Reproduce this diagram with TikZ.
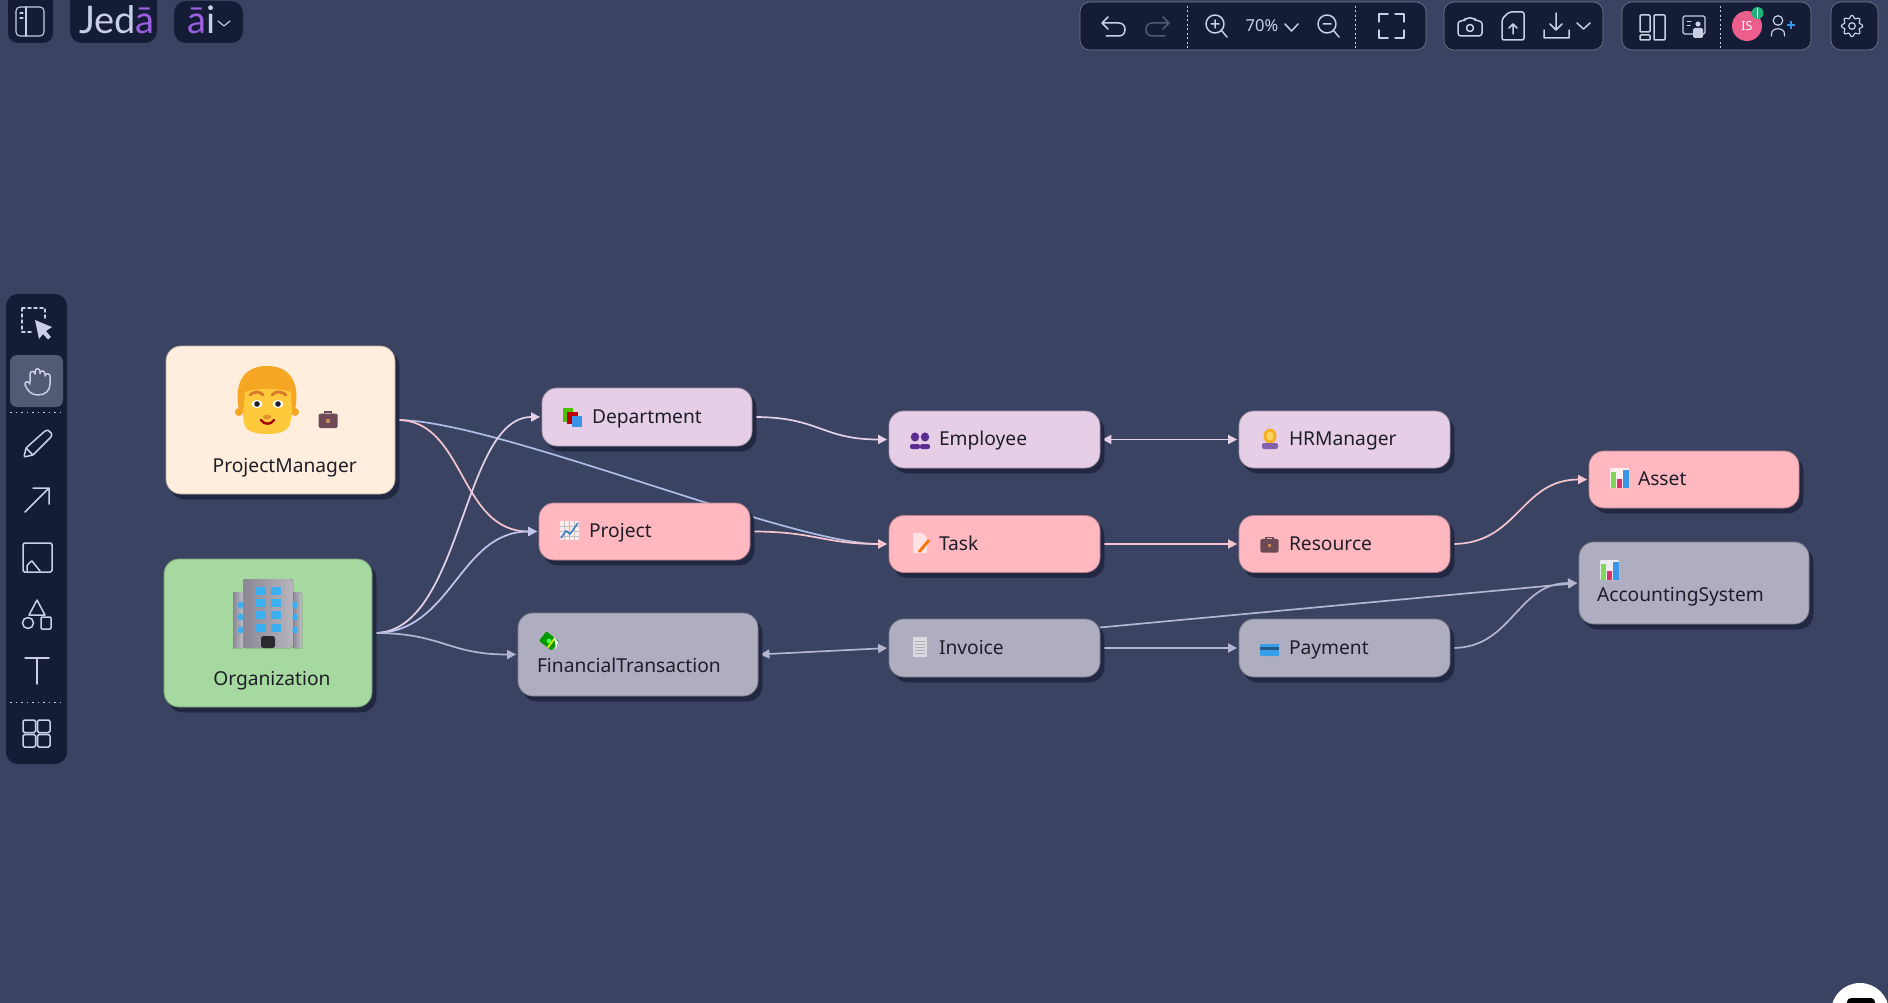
\documentclass[tikz,border=0pt]{standalone}
\usepackage{fontspec}
\setmainfont{Noto Sans}
\newfontfamily\logofont{Lato}
\usetikzlibrary{arrows.meta,calc}
\definecolor{bgc}{HTML}{3A4361}
\definecolor{barc}{HTML}{141C36}
\definecolor{iconc}{HTML}{C9D0E5}
\definecolor{shc}{HTML}{222842}
\definecolor{cream}{HTML}{FFEEDD}
\definecolor{leaf}{HTML}{A5D9A0}
\definecolor{lilac}{HTML}{E6CFE6}
\definecolor{rose}{HTML}{FFB8C0}
\definecolor{slate}{HTML}{AEAEC0}
\definecolor{ink}{HTML}{1E1E28}
\definecolor{epink}{HTML}{F5C6D0}
\definecolor{eblue}{HTML}{AEBEE8}
\definecolor{elilac}{HTML}{E6D2E8}
\definecolor{eviol}{HTML}{C4C4F0}
\definecolor{egrey}{HTML}{B4B6D0}
\definecolor{purp}{HTML}{9B5FE0}
\pgfdeclarelayer{bgl}\pgfdeclarelayer{edgel}\pgfsetlayers{bgl,edgel,main}
\newcommand{\nudge}[2]{\smash{\raisebox{-#1pt}{#2}}}
\newcommand{\briefcase}[3]{\begin{scope}[shift={(#1,#2)},scale=#3]
 \draw[line width=1.4pt,draw=BriefC] (-3.5,-6) -- (-3.5,-8) -- (3.5,-8) -- (3.5,-6);
 \fill[BriefC,rounded corners=1.5pt] (-9.5,-6.5) rectangle (9.5,8);
 \fill[BriefL] (-1.8,-1) rectangle (1.8,2.5);
\end{scope}}
\definecolor{BriefC}{HTML}{6D4A55}\definecolor{BriefL}{HTML}{C98A5A}
\newcommand{\barchart}[2]{\begin{scope}[shift={(#1,#2)}]
 \fill[rounded corners=1pt,HTML/dfe] (0,0) rectangle (19,20);
 \fill[barg] (0.5,4) rectangle (6,20);
 \fill[barr] (7,11) rectangle (12,20);
 \fill[barb] (13,2) rectangle (18.5,20);
\end{scope}}
\definecolor{barg}{HTML}{7FD858}\definecolor{barr}{HTML}{D8336A}\definecolor{barb}{HTML}{3B95E6}
\tikzset{HTML/dfe/.style={fill=black!0!white,fill opacity=.75},
 boxbase/.style={rounded corners=15pt,line width=.8pt,text=ink,
   font=\fontsize{19.2}{23}\selectfont,align=left,inner ysep=0pt,
   preaction={fill=shc,draw=shc,transform canvas={xshift=4pt,yshift=-5pt}}},
 box/.style n args={4}{boxbase,fill=#1,draw=#1!72!black,
   inner xsep=#3pt,text width={#2pt-2*#3pt},minimum height=#4pt},
 link/.style={line width=1.7pt,line cap=round,shorten <=2pt,shorten >=1.5pt,
   -{Triangle[length=9pt,width=9pt]}},
 twin/.style={link,{Triangle[length=9pt,width=9pt]}-{Triangle[length=9pt,width=9pt]}},
 panel/.style={fill=barc,rounded corners=10pt,draw=bgc!70!white,line width=.6pt},
 ic/.style={draw=iconc,line width=1.5pt,line cap=round,line join=round,fill=none},
 sep/.style={draw=iconc,line width=.7pt,dash pattern=on 2pt off 2.5pt},
 bartext/.style={text=iconc,inner sep=0pt}}
\begin{document}
\begin{tikzpicture}[x=1pt,y=-1pt]
\useasboundingbox (0,0) rectangle (1888,1003);
\begin{pgfonlayer}{bgl}
\fill[bgc] (0,0) rectangle (1888,1003);
\end{pgfonlayer}
% nodes
\node (pm) [box={cream}{229}{30}{148}] at (280.5,420) {\nudge{52.7}{\hspace*{16.7pt}ProjectManager}};
\node (org) [box={leaf}{208}{30}{148}] at (268,633) {\nudge{52.7}{\hspace*{19.3pt}Organization}};
\node (dept) [box={lilac}{210}{50}{58}] at (647,417) {\nudge{6.3}{Department}};
\node (proj) [box={rose}{211}{50}{57}] at (644.5,531.5) {\nudge{6.3}{Project}};
\node (ft) [box={slate}{240}{19}{83}] at (638,654.5) {\nudge{18.2}{FinancialTransaction}};
\node (emp) [box={lilac}{211}{50}{57}] at (994.5,439.5) {\nudge{6.3}{Employee}};
\node (hr) [box={lilac}{211}{50}{57}] at (1344.5,439.5) {\nudge{6.3}{HRManager}};
\node (task) [box={rose}{211}{50}{57}] at (994.5,544) {\nudge{6.3}{Task}};
\node (res) [box={rose}{211}{50}{57}] at (1344.5,544) {\nudge{6.3}{Resource}};
\node (inv) [box={slate}{211}{50}{58}] at (994.5,648) {\nudge{6.3}{Invoice}};
\node (pay) [box={slate}{211}{50}{58}] at (1344.5,648) {\nudge{6.3}{Payment}};
\node (asset) [box={rose}{210}{49}{57}] at (1694,479.5) {\nudge{6.3}{Asset}};
\node (acc) [box={slate}{230}{18}{82}] at (1694,583) {\nudge{18.7}{AccountingSystem}};
% connectors
\begin{pgfonlayer}{edgel}
\draw[link,eblue] (pm.east) .. controls +(100,0) and +(-100,0) .. (task.west);
\draw[link,epink] (pm.east) .. controls +(70,0) and +(-80,0) .. (proj.west);
\draw[link,elilac] (org.east) .. controls +(90,0) and +(-80,0) .. (dept.west);
\draw[link,eviol] (org.east) .. controls +(80,0) and +(-80,0) .. (proj.west);
\draw[link,egrey] (org.east) .. controls +(70,0) and +(-70,0) .. (ft.west);
\draw[link,elilac] (dept.east) .. controls +(67,0) and +(-67,0) .. (emp.west);
\draw[link,epink] (proj.east) .. controls +(65,0) and +(-65,0) .. (task.west);
\draw[twin,egrey] (ft.east) -- (inv.west);
\draw[twin,elilac] (emp.east) -- (hr.west);
\draw[link,epink] (task.east) -- (res.west);
\draw[link,egrey] (inv.east) -- (pay.west);
\draw[link,epink] (res.east) .. controls +(68,0) and +(-68,0) .. (asset.west);
\draw[link,egrey] (pay.east) .. controls +(62,0) and +(-62,0) .. (acc.west);
\draw[link,egrey,shorten <=0pt] (inv.11.8) -- (acc.west);
\end{pgfonlayer}
% ---- emoji of the nodes
% face
\fill[HTML/dfe,fill opacity=0] (0,0) circle (0);
\definecolor{hair}{HTML}{F5A623}\definecolor{skin}{HTML}{FFC93C}\definecolor{brow}{HTML}{D9782A}
\fill[hair] (239,412) circle (4); \fill[hair] (295,412) circle (4);
\fill[hair] (239,410) .. controls (234,385) and (242,366) .. (267,366) .. controls (292,366) and (300,385) .. (295,410) .. controls (290,415) and (244,415) .. cycle;
\fill[skin] (245,392) .. controls (255,388) and (280,388) .. (291,392) .. controls (292,405) and (293,420) .. (288,428) .. controls (282,436) and (252,436) .. (246,428) .. controls (241,420) and (244,405) .. cycle;
\draw[brow,line width=2.8pt,line cap=round] (250,395) .. controls (254,391) and (260,391) .. (263,395);
\draw[brow,line width=2.8pt,line cap=round] (272,395) .. controls (275,391) and (282,391) .. (286,395);
\fill[white] (257,404) ellipse (5.5 and 4); \fill[white] (278,404) ellipse (5.5 and 4);
\fill[ink] (257,404) circle (2.8); \fill[ink] (278,404) circle (2.8);
\fill[brow!70!skin] (267,417) ellipse (4 and 2.5);
\fill[HTML/dfe,fill opacity=0] (0,0) circle (0);
\draw[draw=black!35!red,line width=2.4pt,line cap=round] (261,420) .. controls (264,425) and (271,425) .. (274,420);
\briefcase{328}{420}{1}
% building
\definecolor{bld}{HTML}{A6A2AE}\definecolor{bld2}{HTML}{8B8795}\definecolor{winb}{HTML}{3BB0F0}
\fill[left color=bld2,right color=bld!70!white] (233,594) arc (180:270:2) -- (243,592) -- (243,648) -- (233,648) -- cycle;
\fill[left color=bld2,right color=bld!70!white] (293,592) -- (300,592) arc (-90:0:2) -- (302,648) -- (293,648) -- cycle;
\fill[left color=bld2,right color=bld!80!white,rounded corners=3pt] (243,648) -- (243,579) -- (293,579) -- (293,648) -- cycle;
\foreach \yy in {591,603,615,628}{\fill[winb] (256,\yy-4) rectangle (266,\yy+4);\fill[winb] (271,\yy-4) rectangle (281,\yy+4);}
\foreach \yy in {605,617,630}{\fill[winb] (240.5,\yy) ellipse (2.8 and 3.6);\fill[winb] (295,\yy) ellipse (2.8 and 3.6);}
\fill[black!70!bld2,rounded corners=2.5pt] (261,648) -- (261,636) -- (275,636) -- (275,648) -- cycle;
% department
\fill[green!60!black!60!lime] (563,408) rectangle (573,422);
\fill[red!75!black] (567,412) rectangle (578,424);
\fill[barb] (572,416) rectangle (582,427);
% project chart
\fill[white,fill opacity=.72] (560,521) rectangle (579,540);
\foreach \xx in {564,569,574}{\draw[black!25,line width=.5pt] (\xx,521) -- (\xx,540);}
\foreach \yy in {526,531,536}{\draw[black!25,line width=.5pt] (560,\yy) -- (579,\yy);}
\draw[barb!85!black,line width=1.5pt] (561,538) -- (566,531) -- (570,534) -- (578,523);
% money
\begin{scope}[shift={(549,641)},rotate=-38]
\fill[green!60!black,rounded corners=1pt] (-8,-6) rectangle (8,6);
\fill[green!70!white] (0,0) circle (2.4);
\fill[yellow!80!green] (2,-6) rectangle (4,6);
\end{scope}
\fill[white] (554,637) -- (558,642) -- (556,649) -- (555,642) -- cycle;
% employee
\definecolor{bust}{HTML}{5C2D91}
\foreach \xx in {915,925}{\fill[bust] (\xx,437) ellipse (4.2 and 4.6);
 \fill[bust,rounded corners=2pt] (\xx-5,449) -- (\xx-5,444) -- (\xx+5,444) -- (\xx+5,449) -- cycle;}
% HR manager
\fill[hair!90!yellow] (1270,436) ellipse (6.5 and 7.5);
\fill[bust!75!white,rounded corners=2pt] (1262,449) -- (1262,443) -- (1278,443) -- (1278,449) -- cycle;
\fill[skin!80!white] (1270,436) ellipse (3.5 and 4.5);
% task
\fill[white,fill opacity=.6,rounded corners=1pt] (913,533) -- (923,533) -- (927,538) -- (927,553) -- (913,553) -- cycle;
\draw[orange!90!red,line width=2.8pt] (919,552) -- (929,540);
% resource
\briefcase{1269.5}{545}{.95}
% invoice
\fill[white,fill opacity=.55] (913,637) rectangle (927,657);
\foreach \yy in {641,644,647,650,653}{\draw[black!30,line width=.7pt] (915,\yy) -- (925,\yy);}
% payment
\fill[barb!90!cyan,rounded corners=1pt] (1260,644) rectangle (1279,656);
\fill[barb!60!black] (1260,647) rectangle (1279,649.5);
% charts
\barchart{1610}{468}
\barchart{1600}{560}
% ---- application chrome
\fill[barc,rounded corners=10pt] (8,-10) rectangle (53,43);
\fill[barc,rounded corners=12pt] (70,-10) rectangle (157,43);
\fill[barc,rounded corners=12pt] (174,1) rectangle (243,43);
\draw[ic,rounded corners=4pt,line width=1.1pt] (16,7) rectangle (44,36);
\draw[ic,line width=1.1pt] (26,7) -- (26,36) (20,13) -- (23,13) (20,18) -- (23,18);
\node (logo) [bartext,anchor=base west,font=\logofont\fontsize{38}{38}\selectfont,text=iconc] at (79,34) {Jed\textcolor{purp}{ā}};
\node (ailogo) [bartext,anchor=base west,font=\logofont\fontsize{38}{38}\selectfont] at (187,34) {\textcolor{purp}{ā}i};
\draw[ic,line width=1.1pt] (218,21) -- (224,26) -- (230,21);
% top right panels
\draw[panel] (1080,2) rectangle (1426,50);
\draw[panel] (1444,2) rectangle (1603,50);
\draw[panel] (1622,2) rectangle (1811,50);
\draw[panel] (1831,2) rectangle (1878,50);
\draw[ic] (1108,17) -- (1102,23) -- (1108,29) (1102,23) -- (1119,23) .. controls (1127,23) and (1127,36) .. (1119,36) -- (1106,36);
\draw[ic,draw=iconc!35!barc] (1163,17) -- (1169,23) -- (1163,29) (1169,23) -- (1152,23) .. controls (1144,23) and (1144,36) .. (1152,36) -- (1165,36);
\draw[sep] (1187,6) -- (1187,48);
\draw[ic] (1215,24) circle (9) (1221.5,30.5) -- (1227,37) (1211,24) -- (1219,24) (1215,20) -- (1215,28);
\node (zoomlab) [bartext,font=\bfseries\fontsize{16.5}{18}\selectfont] at (1262,26) {70\%};
\draw[ic] (1285,24) -- (1291.5,31) -- (1298,24);
\draw[ic] (1327,24) circle (9) (1333.5,30.5) -- (1339,37) (1323,24) -- (1331,24);
\draw[sep] (1355,6) -- (1355,48);
\draw[ic] (1379,22) -- (1379,14) -- (1388,14) (1395,14) -- (1404,14) -- (1404,22) (1404,30) -- (1404,38) -- (1395,38) (1388,38) -- (1379,38) -- (1379,30);
\draw[ic,rounded corners=3pt] (1458,21) -- (1464,21) -- (1466,18) -- (1474,18) -- (1476,21) -- (1482,21) -- (1482,36) -- (1458,36) -- cycle;
\draw[ic] (1470,28) circle (3.5);
\draw[ic,rounded corners=2pt] (1502,19) -- (1509,12) -- (1524,12) -- (1524,40) -- (1502,40) -- cycle;
\draw[ic] (1513,34) -- (1513,24) (1509,28) -- (1513,24) -- (1517,28);
\draw[ic] (1556,13) -- (1556,30) (1550,24) -- (1556,30) -- (1562,24) (1544,30) -- (1544,38) -- (1569,38) -- (1569,30);
\draw[ic] (1577,23) -- (1583.5,29) -- (1590,23);
\draw[ic,rounded corners=1pt] (1640,15) rectangle (1650,32) (1640,35) rectangle (1650,40) (1654,15) rectangle (1665,40);
\draw[ic,line width=1.1pt,rounded corners=1.5pt] (1683,16) rectangle (1705,34);
\fill[iconc] (1698,24) circle (2.6);
\fill[iconc,rounded corners=1.5pt] (1693,38) -- (1693,28) -- (1703,28) -- (1703,38) -- cycle;
\draw[ic,line width=1pt] (1687,22) -- (1691,22) (1687,26) -- (1690,26);
\draw[sep] (1720,6) -- (1720,48);
\definecolor{avatar}{HTML}{EC5F8C}\definecolor{mint}{HTML}{1FB37A}
\fill[avatar] (1747,26) circle (15);
\node (initials) [bartext,text=white,font=\fontsize{12.5}{14}\selectfont] at (1747,26) {IS};
\fill[mint] (1757.5,13) circle (6);
\draw[draw=white,line width=.9pt] (1757.5,8) -- (1757.5,18);
\draw[ic,line width=1.2pt] (1778,20.5) circle (4.8) (1771.5,36) -- (1771.5,34) .. controls (1771.5,27) and (1784.5,27) .. (1784.5,34) -- (1784.5,36);
\draw[draw=barb,line width=1.2pt] (1787,25) -- (1795,25) (1791,21) -- (1791,29);
\draw[ic,line width=1.2pt,smooth cycle] plot[domain=0:357,samples=120] ({1852+(9.2+1.4*cos(8*\x))*cos(\x)},{26+(9.2+1.4*cos(8*\x))*sin(\x)});
\draw[ic,line width=1.2pt] (1852,26) circle (3.3);
% left tool bar
\fill[barc,rounded corners=12pt] (6,294) rectangle (67,764);
\fill[bgc!88!white,rounded corners=7pt] (10,355) rectangle (63,407);
\draw[ic,dash pattern=on 3pt off 3pt] (22,308) -- (45,308) -- (45,320) (22,308) -- (22,332) -- (33,332);
\fill[iconc] (35,320) -- (52,327) -- (46,331) -- (51,337) -- (48,339.5) -- (43,334) -- (39,339) -- cycle;
\draw[ic] (30,382) -- (30,374) .. controls (30,370.5) and (35,370.5) .. (35,374) -- (35,372) .. controls (35,367.5) and (40,367.5) .. (40,372) -- (40,373.5) .. controls (40,370) and (45,370) .. (45,374) -- (45,376) .. controls (45,373) and (50,373) .. (50,376) -- (50,384) .. controls (50,391) and (45,395) .. (38,395) .. controls (31,395) and (28,391) .. (25,385) .. controls (24,382) and (28,380) .. (30,384);
\draw[sep,dash pattern=on 1.5pt off 4pt] (10,412) -- (63,412);
\draw[ic,rounded corners=1pt] (24,457) -- (26,448) -- (45,431) -- (48,430) -- (52,434) -- (51,437) -- (33,455) -- cycle (26,448) -- (33,455);
\draw[ic] (25,512) -- (49,488) (33,488) -- (49,488) -- (49,504);
\draw[ic,rounded corners=1.5pt] (23,543) rectangle (52,572);
\draw[ic] (27,571) -- (27,566) .. controls (29,563) and (31,561) .. (32,561) -- (40,571);
\draw[ic] (37,600) -- (45,615) -- (29,615) -- cycle;
\draw[ic] (28,623) circle (5.5);
\draw[ic,rounded corners=1pt] (41,617) rectangle (51,629);
\draw[ic] (25,658) -- (49,658) (37,658) -- (37,684);
\draw[sep,dash pattern=on 1.5pt off 4pt] (10,702) -- (63,702);
\draw[ic,rounded corners=1.5pt] (23,720) rectangle (35.5,732.5) (37.5,720) rectangle (50,732.5) (23,734.5) rectangle (35.5,747) (37.5,734.5) rectangle (50,747);
% corner widget
\fill[white] (1860,1012) circle (29);
\fill[black,rounded corners=4pt] (1847,1010) -- (1847,998) -- (1875,998) -- (1875,1010) -- cycle;
\end{tikzpicture}
\end{document}
